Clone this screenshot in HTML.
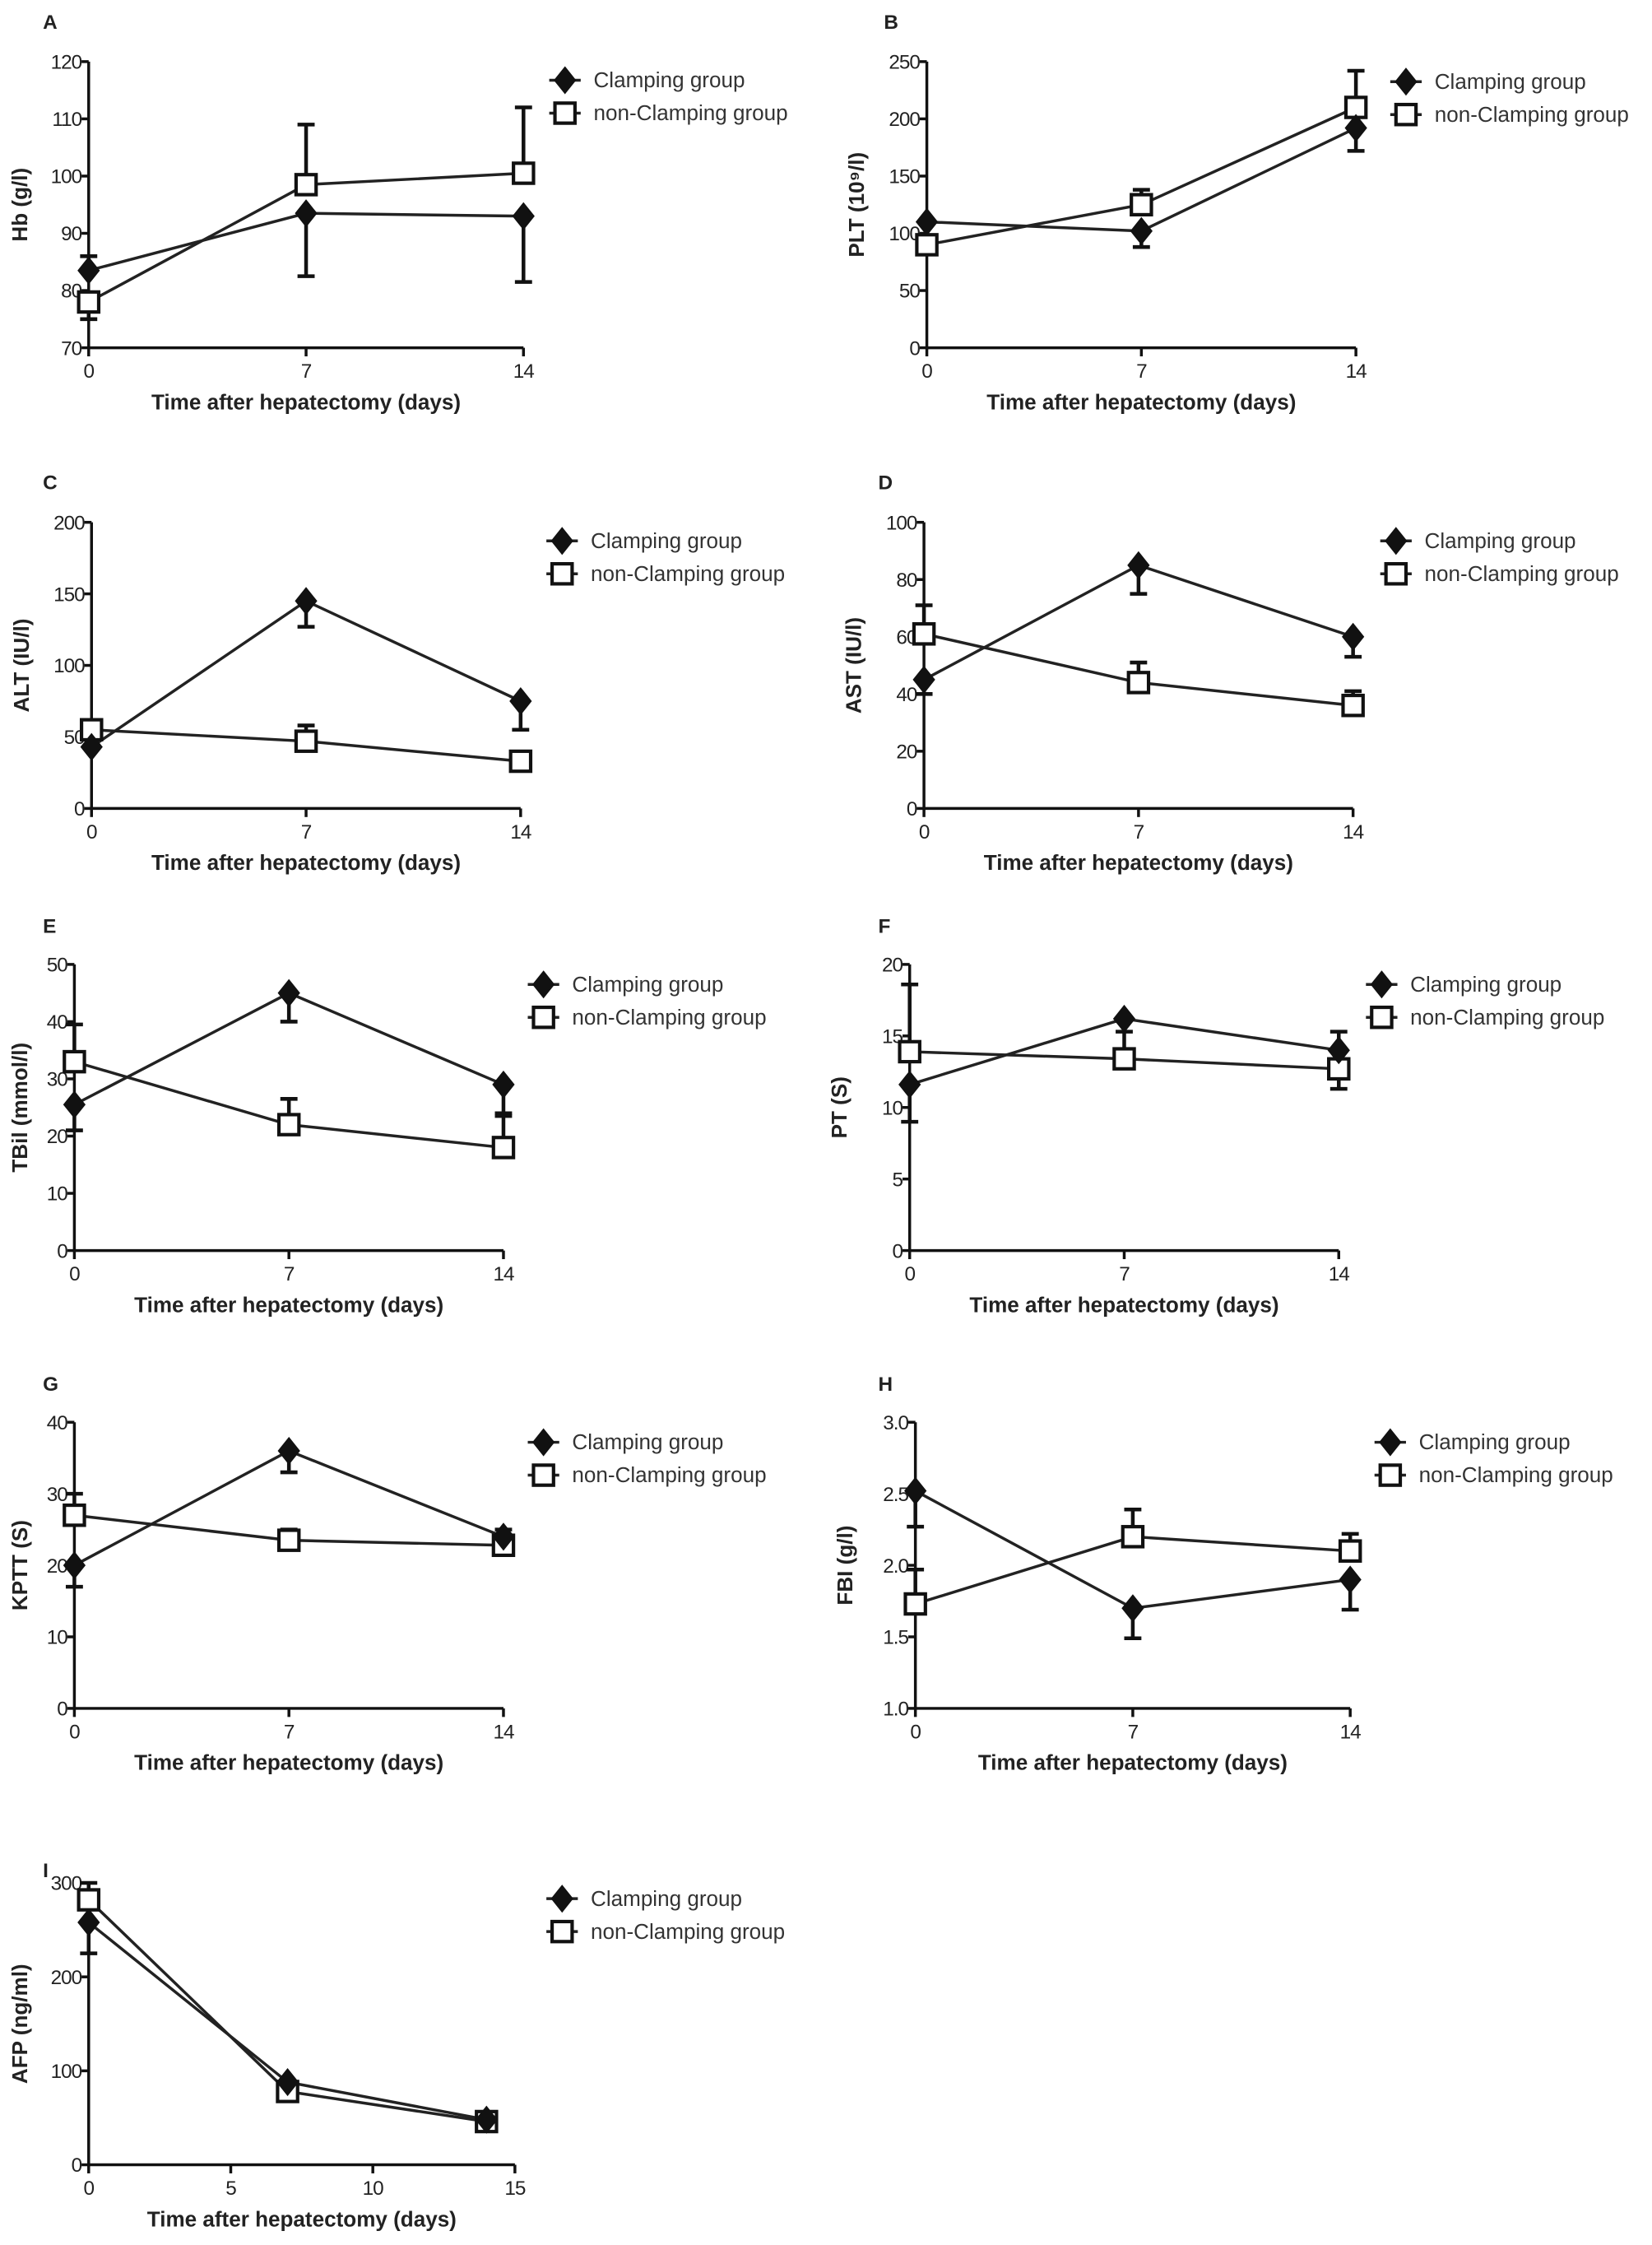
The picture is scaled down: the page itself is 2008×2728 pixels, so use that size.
<!DOCTYPE html>
<html><head><meta charset="utf-8">
<style>
html,body{margin:0;padding:0;background:#fff;}
svg{display:block;}
text{font-family:"Liberation Sans",Arial,sans-serif;fill:#222;}
.tick{font-size:14px;letter-spacing:-0.6px;}
.ttl{font-size:15px;font-weight:bold;}
.leg{font-size:15px;fill:#333;}
.plab{font-size:14px;font-weight:bold;}
</style></head>
<body>
<svg id="fig" width="2008" height="2728" viewBox="0 0 1155 1569" xmlns="http://www.w3.org/2000/svg"></svg>
<script>
const xDays = [0, 7, 14];
const xDaysI = [0, 7, 14];
const xTicksMain = [0, 7, 14];
const xTicksI = [0, 5, 10, 15];
const hbClamp = [83.5, 93.5, 93];
const hbClampErr = [2.5, -11, -11.5];
const hbNon = [78, 98.5, 100.5];
const hbNonErr = [-3, 10.5, 11.5];
const pltClamp = [110, 102, 192];
const pltClampErr = [0, -14, -20];
const pltNon = [90, 125, 210];
const pltNonErr = [-5, 13, 32];
const altClamp = [43, 145, 75];
const altClampErr = [0, -18, -20];
const altNon = [55, 47, 33];
const altNonErr = [0, 11, 5];
const astClamp = [45, 85, 60];
const astClampErr = [-5, -10, -7];
const astNon = [61, 44, 36];
const astNonErr = [10, 7, 5];
const tbilClamp = [25.5, 45, 29];
const tbilClampErr = [-4.5, -5, -5.5];
const tbilNon = [33, 22, 18];
const tbilNonErr = [6.5, 4.5, 6];
const ptClamp = [11.6, 16.2, 14];
const ptClampErr = [-2.6, 0, 1.3];
const ptNon = [13.9, 13.4, 12.7];
const ptNonErr = [4.7, 1.9, -1.4];
const kpttClamp = [20, 36, 24];
const kpttClampErr = [-3, -3, 1];
const kpttNon = [27, 23.5, 22.8];
const kpttNonErr = [3, 1.5, -1];
const fbiClamp = [2.52, 1.70, 1.90];
const fbiClampErr = [-0.25, -0.21, -0.21];
const fbiNon = [1.73, 2.20, 2.10];
const fbiNonErr = [0.24, 0.19, 0.12];
const afpClamp = [258, 88, 48];
const afpClampErr = [-33, 0, 0];
const afpNon = [282, 78, 46];
const afpNonErr = [18, 0, 0];

const yTicksA = [70, 80, 90, 100, 110, 120];
const yTicksB = [0, 50, 100, 150, 200, 250];
const yTicksC = [0, 50, 100, 150, 200];
const yTicksD = [0, 20, 40, 60, 80, 100];
const yTicksE = [0, 10, 20, 30, 40, 50];
const yTicksF = [0, 5, 10, 15, 20];
const yTicksG = [0, 10, 20, 30, 40];
const yTicksH = ["1.0", "1.5", "2.0", "2.5", "3.0"];
const yTicksI = [0, 100, 200, 300];

const NS = "http://www.w3.org/2000/svg";
const svg = document.getElementById("fig");
function mk(tag, attrs, parent) {
  const e = document.createElementNS(NS, tag);
  for (const k in attrs) e.setAttribute(k, attrs[k]);
  (parent || svg).appendChild(e);
  return e;
}

const panels = [
  {id:"a", label:"A", lx:30, ly:20, ax:62, x1:366, top:43, bot:243, ymin:70, ymax:120, ticks:yTicksA, xt:xTicksMain, xmax:14, xs:xDays, c:hbClamp, ce:hbClampErr, n:hbNon, ne:hbNonErr, title:"Hb (g/l)", legX:395, legY:56},
  {id:"b", label:"B", lx:618, ly:20, ax:648, x1:948, top:43, bot:243, ymin:0, ymax:250, ticks:yTicksB, xt:xTicksMain, xmax:14, xs:xDays, c:pltClamp, ce:pltClampErr, n:pltNon, ne:pltNonErr, title:"PLT (10⁹/l)", legX:983, legY:57},
  {id:"c", label:"C", lx:30, ly:342, ax:64, x1:364, top:365, bot:565, ymin:0, ymax:200, ticks:yTicksC, xt:xTicksMain, xmax:14, xs:xDays, c:altClamp, ce:altClampErr, n:altNon, ne:altNonErr, title:"ALT (IU/l)", legX:393, legY:378},
  {id:"d", label:"D", lx:614, ly:342, ax:646, x1:946, top:365, bot:565, ymin:0, ymax:100, ticks:yTicksD, xt:xTicksMain, xmax:14, xs:xDays, c:astClamp, ce:astClampErr, n:astNon, ne:astNonErr, title:"AST (IU/l)", legX:976, legY:378},
  {id:"e", label:"E", lx:30, ly:652, ax:52, x1:352, top:674, bot:874, ymin:0, ymax:50, ticks:yTicksE, xt:xTicksMain, xmax:14, xs:xDays, c:tbilClamp, ce:tbilClampErr, n:tbilNon, ne:tbilNonErr, title:"TBil (mmol/l)", legX:380, legY:688},
  {id:"f", label:"F", lx:614, ly:652, ax:636, x1:936, top:674, bot:874, ymin:0, ymax:20, ticks:yTicksF, xt:xTicksMain, xmax:14, xs:xDays, c:ptClamp, ce:ptClampErr, n:ptNon, ne:ptNonErr, title:"PT (S)", legX:966, legY:688},
  {id:"g", label:"G", lx:30, ly:972, ax:52, x1:352, top:994, bot:1194, ymin:0, ymax:40, ticks:yTicksG, xt:xTicksMain, xmax:14, xs:xDays, c:kpttClamp, ce:kpttClampErr, n:kpttNon, ne:kpttNonErr, title:"KPTT (S)", legX:380, legY:1008},
  {id:"h", label:"H", lx:614, ly:972, ax:640, x1:944, top:994, bot:1194, ymin:1, ymax:3, ticks:yTicksH, xt:xTicksMain, xmax:14, xs:xDays, c:fbiClamp, ce:fbiClampErr, n:fbiNon, ne:fbiNonErr, title:"FBI (g/l)", legX:972, legY:1008},
  {id:"i", label:"I", lx:30, ly:1312, ax:62, x1:360, top:1316, bot:1513, ymin:0, ymax:300, ticks:yTicksI, xt:xTicksI, xmax:15, xs:xDaysI, c:afpClamp, ce:afpClampErr, n:afpNon, ne:afpNonErr, title:"AFP (ng/ml)", legX:393, legY:1327}
];

function diamond(g, x, y, r) {
  return mk("polygon", {points:`${x},${y-r} ${x+r*0.8},${y} ${x},${y+r} ${x-r*0.8},${y}`, fill:"#111", stroke:"#111", "stroke-width":1}, g);
}
function square(g, x, y, h) {
  return mk("rect", {x:x-h, y:y-h, width:2*h, height:2*h, fill:"#fff", stroke:"#111", "stroke-width":2.4}, g);
}

panels.forEach(p => {
  const g = mk("g", {});
  
  
  const X = v => p.ax + (v / p.xmax) * (p.x1 - p.ax);
  const Y = v => p.bot - (v - p.ymin) / (p.ymax - p.ymin) * (p.bot - p.top);

  const lab = mk("text", {x:p.lx, y:p.ly, class:"plab"}, g); lab.textContent = p.label;
  
  

  const yax = mk("line", {x1:p.ax, y1:p.top, x2:p.ax, y2:p.bot, stroke:"#111", "stroke-width":2}, g);
  
  
  const xax = mk("line", {x1:p.ax, y1:p.bot, x2:p.x1, y2:p.bot, stroke:"#111", "stroke-width":2}, g);
  
  

  p.ticks.forEach(t => {
    const v = parseFloat(t);
    mk("line", {x1:p.ax-5, y1:Y(v), x2:p.ax, y2:Y(v), stroke:"#111", "stroke-width":2}, g);
    const tt = mk("text", {x:p.ax-5, y:Y(v)+5, class:"tick", "text-anchor":"end"}, g); tt.textContent = t;
    
    
  });
  p.xt.forEach(t => {
    mk("line", {x1:X(t), y1:p.bot, x2:X(t), y2:p.bot+6, stroke:"#111", "stroke-width":2}, g);
    const tt = mk("text", {x:X(t), y:p.bot+21, class:"tick", "text-anchor":"middle"}, g); tt.textContent = t;
    
    
  });
  const xt = mk("text", {x:(p.ax+p.x1)/2, y:p.bot+43, class:"ttl", "text-anchor":"middle"}, g);
  xt.textContent = "Time after hepatectomy (days)";
  
  
  const cy = (p.top+p.bot)/2, cx = Math.max(p.ax - 44, 19);
  const yt = mk("text", {x:cx, y:cy, class:"ttl", "text-anchor":"middle", transform:`rotate(-90 ${cx} ${cy})`}, g);
  yt.textContent = p.title;
  
  

  [[p.n, p.ne, "non-clamping"], [p.c, p.ce, "clamping"]].forEach(([vals, errs, nm]) => {
    const pts = vals.map((v, i) => `${X(p.xs[i])},${Y(v)}`).join(" ");
    const ln = mk("polyline", {points:pts, fill:"none", stroke:"#222", "stroke-width":2}, g);
    
    
    vals.forEach((v, i) => {
      const e = errs[i];
      if (e !== 0) {
        const x = X(p.xs[i]), y2 = Y(v + e);
        const eb = mk("path", {d:`M${x},${Y(v)} L${x},${y2} M${x-6},${y2} L${x+6},${y2}`, stroke:"#111", "stroke-width":2.6, fill:"none"}, g);
        
        
      }
    });
  });
  p.n.forEach((v, i) => {
    const m = square(g, X(p.xs[i]), Y(v), 7);
    
    
  });
  p.c.forEach((v, i) => {
    const m = diamond(g, X(p.xs[i]), Y(v), 9);
    
    
  });

  const lg = mk("g", {}, g);
  
  
  mk("line", {x1:p.legX-11, y1:p.legY, x2:p.legX+11, y2:p.legY, stroke:"#222", "stroke-width":2}, lg);
  diamond(lg, p.legX, p.legY, 9);
  const l1 = mk("text", {x:p.legX+20, y:p.legY+5, class:"leg"}, lg); l1.textContent = "Clamping group";
  
  
  mk("line", {x1:p.legX-11, y1:p.legY+23, x2:p.legX+11, y2:p.legY+23, stroke:"#222", "stroke-width":2}, lg);
  square(lg, p.legX, p.legY+23, 7);
  const l2 = mk("text", {x:p.legX+20, y:p.legY+28, class:"leg"}, lg); l2.textContent = "non-Clamping group";
  
  
});
</script>
</body></html>
